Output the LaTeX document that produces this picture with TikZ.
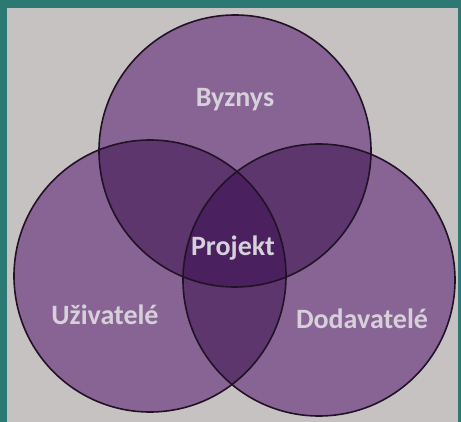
\documentclass[tikz,border=0pt]{standalone}
\usepackage{fontspec}
\setmainfont{Carlito}
\definecolor{teal0}{RGB}{44,120,114}
\definecolor{paper}{RGB}{198,194,194}
\definecolor{p1}{RGB}{136,100,148}
\definecolor{p2}{RGB}{92,54,108}
\definecolor{p3}{RGB}{74,32,94}
\definecolor{edge}{RGB}{34,18,38}
\definecolor{lbl}{RGB}{214,208,218}
\begin{document}
\begin{tikzpicture}[x=1pt,y=-1pt,
  lab/.style={font=\bfseries\fontsize{28}{30}\selectfont, text=lbl, inner sep=0pt},
  ring/.style={draw=edge, line width=1.6pt}]
\useasboundingbox (0,0) rectangle (461,422);
\fill[teal0] (0,0) rectangle (461,422);
\fill[paper] (7,8.5) rectangle (458,422);
\coordinate (cT) at (235,151);
\coordinate (cL) at (150,276);
\coordinate (cR) at (319,280);
\def\rr{136}
% single
\fill[p1] (cT) circle (\rr);
\fill[p1] (cL) circle (\rr);
\fill[p1] (cR) circle (\rr);
% pairs
\begin{scope}\clip (cT) circle (\rr); \fill[p2] (cL) circle (\rr); \end{scope}
\begin{scope}\clip (cT) circle (\rr); \fill[p2] (cR) circle (\rr); \end{scope}
\begin{scope}\clip (cL) circle (\rr); \fill[p2] (cR) circle (\rr); \end{scope}
% triple
\begin{scope}\clip (cT) circle (\rr); \clip (cL) circle (\rr); \fill[p3] (cR) circle (\rr); \end{scope}
% outlines
\draw[ring] (cT) circle (\rr);
\draw[ring] (cL) circle (\rr);
\draw[ring] (cR) circle (\rr);
% labels
\node[lab] (byz) at (235,100) {Byznys};
\node[lab] (proj) at (233,248) {Projekt};
\node[lab] (uziv) at (105,315) {Uživatelé};
\node[lab] (doda) at (362,319) {Dodavatelé};
\end{tikzpicture}
\end{document}
